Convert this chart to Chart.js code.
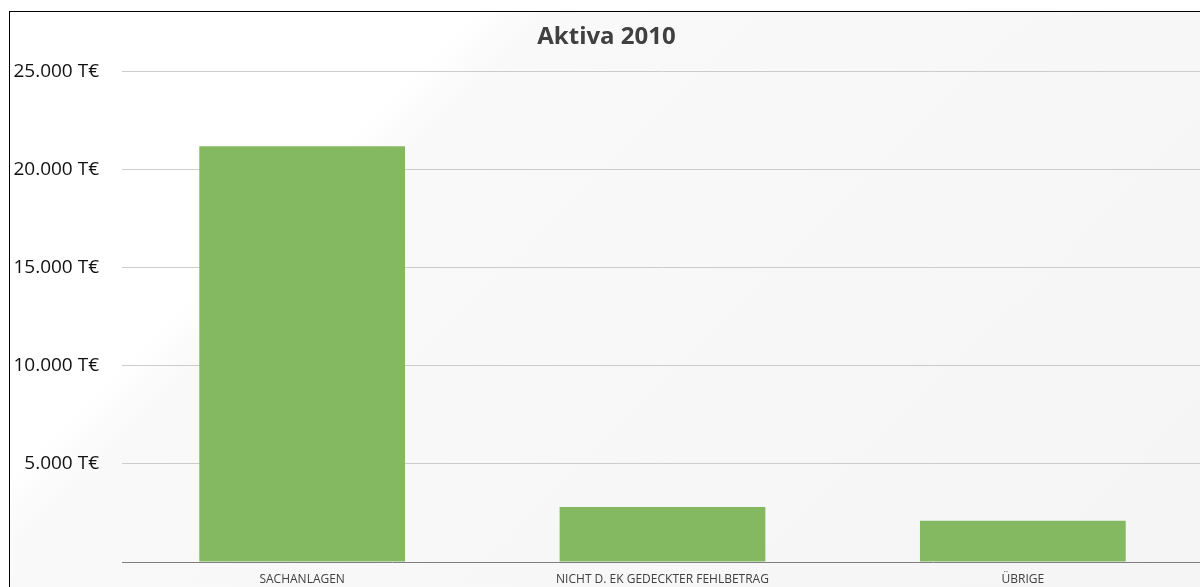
<!DOCTYPE html>
<html lang="de">
<head>
    <meta charset="UTF-8">
    <title>Aktiva 2010</title>
    <script src="https://cdn.jsdelivr.net/npm/chart.js@4.4.1/dist/chart.umd.min.js"></script>
    <style>
        html, body { margin:0; padding:0; background:#fff; overflow:hidden; width:1200px; height:587px; }
        #box {
            position:absolute; left:9px; top:11px; width:1200px; height:590px;
            border-left:1px solid #000; border-top:1px solid #000;
            background:linear-gradient(135deg, #ffffff 0%, #ffffff 26%, #f9f9f9 30%, #f5f5f5 100%);
        }
    </style>
</head>
<body>
    <div id="box">
        <canvas id="myChart"></canvas>
    </div>
    <script>
        // chart data
        var v_labels = ["SACHANLAGEN", "NICHT D. EK GEDECKTER FEHLBETRAG", "ÜBRIGE"];
        var v_values = [21200, 2800, 2100];
        var v_ticks = [0, 5000, 10000, 15000, 20000, 25000];
        var v_title = "Aktiva 2010";

        var f_fmt = function(p_val){
            if(p_val === 0) return "";
            return p_val.toLocaleString("de-DE") + " T€";
        }

        const ctx = document.getElementById('myChart').getContext('2d');
        const myChart = new Chart(ctx, {
            type: 'bar',
            data: {
                labels: v_labels,
                datasets: [{
                    label: v_title,
                    data: v_values,
                    backgroundColor: 'rgb(132,185,98)',
                    borderWidth: 0,
                    categoryPercentage: 1,
                    barPercentage: 0.571
                }]
            },
            options: {
                responsive: true,
                maintainAspectRatio: false,
                animation: false,
                layout: { padding: { left: 0, right: 7, top: 0, bottom: 0 } },
                plugins: {
                    legend: { display: false },
                    tooltip: { enabled: false },
                    title: {
                        display: true,
                        text: v_title,
                        color: '#404040',
                        font: { family: "'Open Sans', sans-serif", size: 24, weight: 'bold' },
                        padding: { top: 11, bottom: 20 }
                    }
                },
                scales: {
                    x: {
                        grid: { display: false, drawTicks: false },
                        border: { display: true, color: '#7f7f7f', width: 1 },
                        ticks: {
                            color: '#404040',
                            padding: 10,
                            maxRotation: 0,
                            font: { family: "'Open Sans', sans-serif", size: 12 }
                        },
                        afterFit: function(scale){ scale.height = 40; }
                    },
                    y: {
                        min: v_ticks[0],
                        max: v_ticks[v_ticks.length - 1],
                        afterBuildTicks: function(scale){
                            scale.ticks = v_ticks.map(function(v){ return { value: v }; });
                        },
                        grid: {
                            drawTicks: false,
                            color: function(c){ return c.tick && c.tick.value === 0 ? 'rgba(0,0,0,0)' : '#cccccc'; }
                        },
                        border: { display: false },
                        ticks: {
                            color: '#111111',
                            padding: 23,
                            font: { family: "'Open Sans', sans-serif", size: 19 },
                            callback: function(v){ return f_fmt(v); }
                        },
                        afterFit: function(scale){ scale.width = 112; }
                    }
                }
            }
        });
    </script>
</body>
</html>
